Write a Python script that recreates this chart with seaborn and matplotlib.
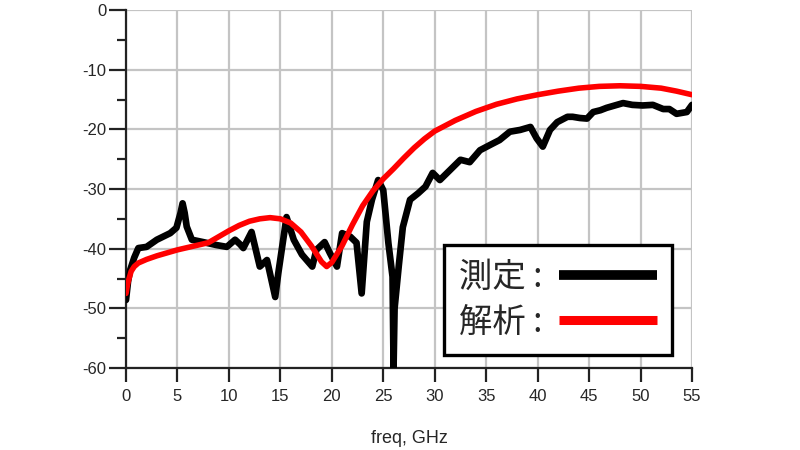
import matplotlib
matplotlib.use("Agg")
import matplotlib.pyplot as plt
from matplotlib.lines import Line2D
import seaborn as sns
import pandas as pd

# measured (測定)
meas_freq = [0.0, 0.2, 0.4, 0.8, 1.2, 2.0, 3.0, 4.3, 4.9, 5.3, 5.5, 5.7, 5.9, 6.4, 7.5,
             8.8, 9.8, 10.6, 11.1, 11.4, 12.2, 13.0, 13.7, 14.5, 14.8, 15.6, 16.3, 17.1,
             18.1, 18.5, 19.3, 19.8, 20.5, 21.0, 21.8, 22.4, 22.9, 23.4, 23.9, 24.5, 25.0,
             25.5, 25.9, 26.0, 26.1, 26.5, 26.9, 27.6, 28.4, 29.1, 29.8, 30.5, 31.5, 32.5,
             33.4, 34.4, 35.4, 36.3, 37.3, 38.3, 39.3, 39.9, 40.5, 41.2, 41.9, 42.9, 43.4,
             44.1, 44.8, 45.4, 46.1, 46.7, 48.3, 49.2, 50.2, 51.2, 52.2, 52.8, 53.5, 54.5, 55.0]
meas_db = [-48.6, -45.5, -43.6, -41.5, -39.9, -39.7, -38.5, -37.4, -36.5, -34.0, -32.4, -34.0,
           -36.3, -38.5, -38.9, -39.4, -39.7, -38.5, -39.3, -39.9, -37.2, -43.0, -41.9, -48.1,
           -44.1, -34.7, -38.5, -41.0, -43.0, -40.2, -38.9, -40.7, -43.0, -37.4, -38.0, -39.0,
           -47.5, -35.5, -31.8, -28.5, -30.2, -39.1, -44.7, -60.0, -50.0, -43.0, -36.4, -31.8,
           -30.7, -29.6, -27.3, -28.5, -26.8, -25.1, -25.5, -23.5, -22.6, -21.8, -20.4, -20.1,
           -19.6, -21.5, -22.9, -20.1, -18.8, -17.9, -17.9, -18.1, -18.2, -17.1, -16.8, -16.4,
           -15.6, -15.9, -16.0, -15.9, -16.6, -16.6, -17.4, -17.1, -15.9]

# analysis (解析)
sim_freq = [0.0, 0.15, 0.3, 0.5, 0.8, 1.2, 2.0, 3.0, 4.0, 5.0, 6.0, 7.0, 8.0, 9.0, 10.0,
            11.0, 12.0, 13.0, 14.0, 15.0, 16.0, 17.0, 18.0, 19.0, 19.5, 20.0, 21.0, 22.0,
            23.0, 24.0, 25.0, 26.0, 27.0, 28.0, 29.0, 30.0, 32.0, 34.0, 36.0, 38.0, 40.0,
            42.0, 44.0, 46.0, 48.0, 50.0, 52.0, 53.5, 55.0]
sim_db = [-47.5, -46.0, -45.0, -43.8, -43.0, -42.4, -41.8, -41.2, -40.7, -40.2, -39.8, -39.4,
          -39.0, -38.0, -37.0, -36.1, -35.4, -35.0, -34.8, -35.0, -35.7, -37.2, -39.5, -42.2,
          -43.0, -42.3, -39.5, -36.0, -32.8, -30.3, -28.3, -26.6, -24.8, -23.1, -21.6, -20.3,
          -18.5, -17.0, -15.8, -14.9, -14.2, -13.6, -13.1, -12.8, -12.7, -12.8, -13.1, -13.6,
          -14.2]

labels = ["測定 :", "解析 :"]
x_ticks = list(range(0, 56, 5))
y_ticks = list(range(-60, 1, 10))

sns.set_theme(style="white")
plt.rcParams["font.family"] = ["Liberation Sans", "Noto Sans CJK JP", "DejaVu Sans"]
plt.rcParams["axes.unicode_minus"] = False

fig = plt.figure(figsize=(8, 4.5), dpi=100)
ax = fig.add_axes([126 / 800, 1 - 368 / 450, (692 - 126) / 800, (368 - 10) / 450])

df_m = pd.DataFrame({"freq": meas_freq, "db": meas_db})
df_s = pd.DataFrame({"freq": sim_freq, "db": sim_db})
sns.lineplot(data=df_m, x="freq", y="db", ax=ax, color="black", lw=4.8,
             estimator=None, sort=False, zorder=3)
sns.lineplot(data=df_s, x="freq", y="db", ax=ax, color="#ff0000", lw=4.0,
             estimator=None, sort=False, zorder=4)

ax.set_xlim(0, 55)
ax.set_ylim(-60, 0)
ax.set_xticks(x_ticks)
ax.set_yticks(y_ticks)
ax.set_yticks(list(range(-55, 0, 10)), minor=True)
ax.grid(True, which="major", color="#c4c4c4", lw=1.6, zorder=0)
ax.set_axisbelow(True)
for s in ["top", "right"]:
    ax.spines[s].set_visible(False)
for s in ["left", "bottom"]:
    ax.spines[s].set_color("#222222")
    ax.spines[s].set_linewidth(1.6)
ax.tick_params(axis="y", which="major", direction="out", length=12, width=1.6,
               color="#222222", labelsize=12, pad=2, left=True)
ax.tick_params(axis="y", which="minor", direction="out", length=6.5, width=1.6,
               color="#222222", left=True)
ax.tick_params(axis="x", which="major", direction="out", length=10, width=1.6,
               color="#222222", labelsize=12, pad=5, bottom=True)
ax.set_xlabel("freq, GHz", fontsize=13, labelpad=19)
ax.set_ylabel("")

handles = [Line2D([], [], color="black", lw=7, solid_capstyle="butt"),
           Line2D([], [], color="#ff0000", lw=6.5, solid_capstyle="butt")]
leg = ax.legend(handles, labels, loc="upper left",
                bbox_to_anchor=((444 - 126) / 566, 1 - (245 - 10) / 358),
                markerfirst=False, frameon=True, fancybox=False, framealpha=1,
                edgecolor="black", handlelength=2.95, handletextpad=0.5,
                borderpad=0.45, labelspacing=0.3, borderaxespad=0,
                prop={"family": ["Noto Sans CJK JP", "DejaVu Sans"], "size": 24})
leg.get_frame().set_linewidth(2.4)
leg.set_zorder(10)

fig.savefig("out.png", dpi=100)
